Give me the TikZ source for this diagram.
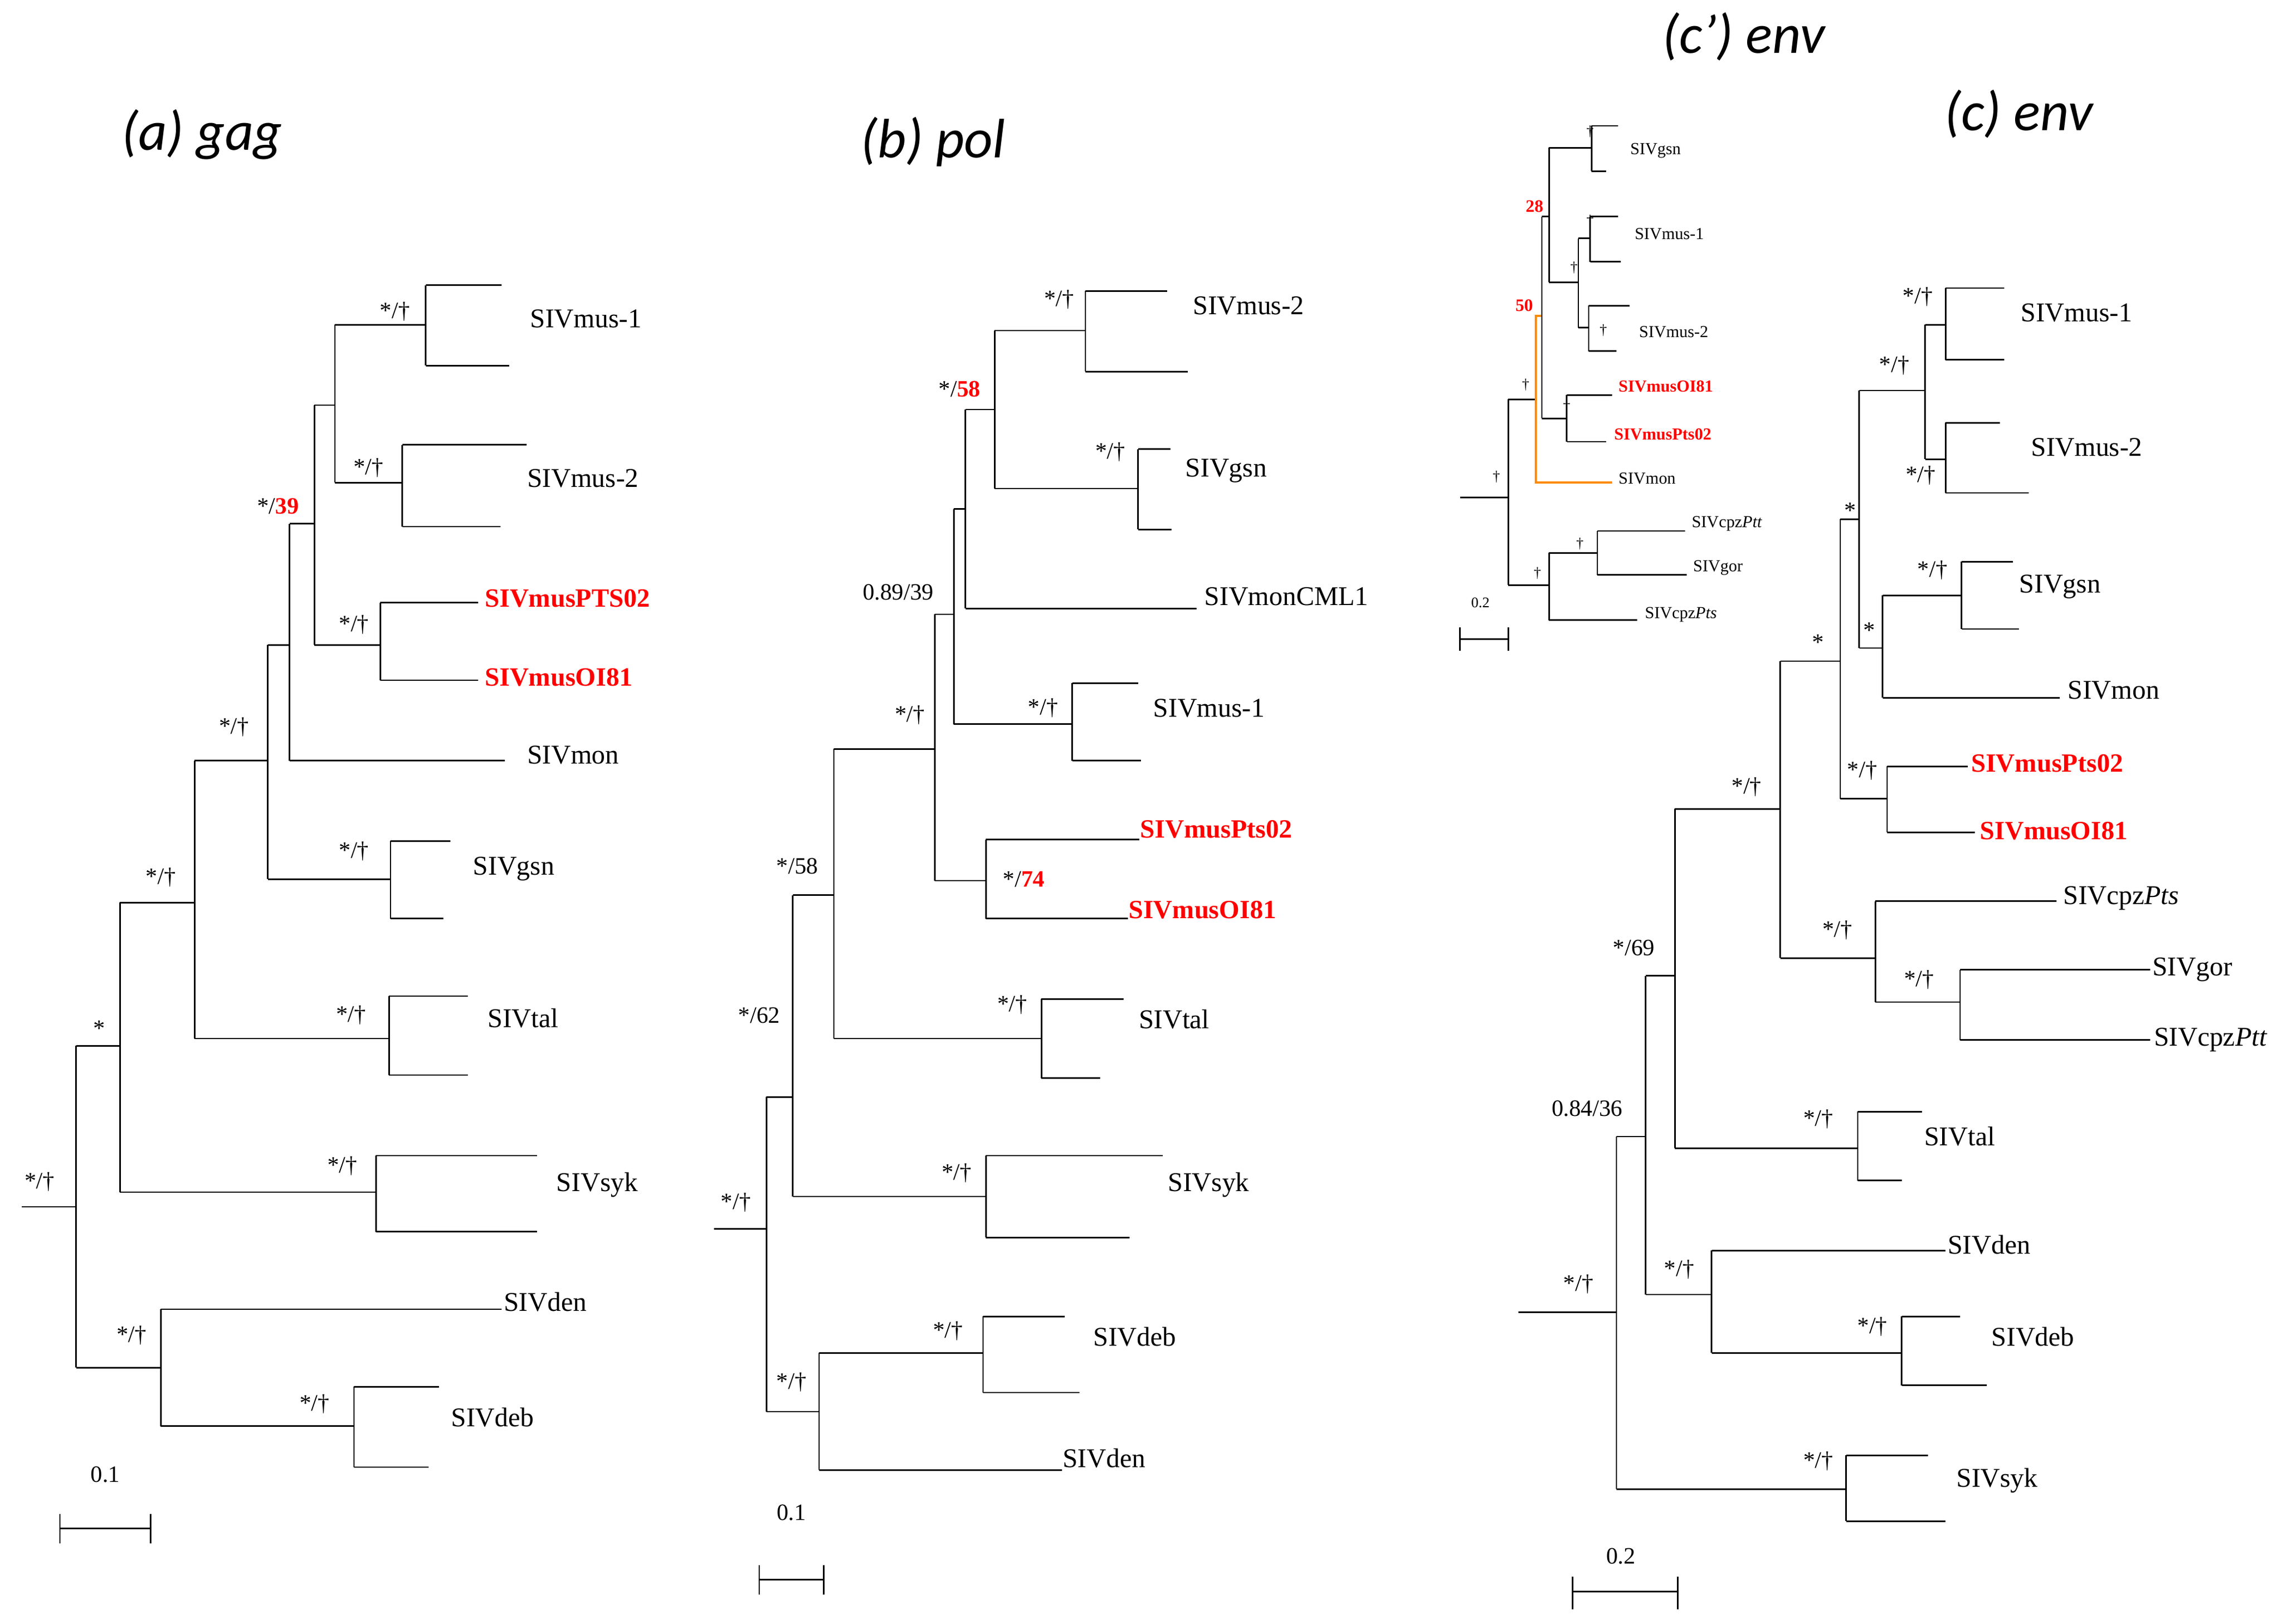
\documentclass[tikz,border=0pt]{standalone}
\usepackage{fontspec}
\setmainfont{Liberation Serif}
\newfontfamily\ttl{Carlito}
\begin{document}
\begin{tikzpicture}[x=1pt,y=-1pt,line width=1pt,
 lab/.style={anchor=west,inner sep=0pt,font=\fontsize{18.5}{18.5}\selectfont},
 rlab/.style={lab,text=red,font=\fontsize{18}{18}\selectfont\bfseries},
 sup/.style={inner sep=0pt,font=\fontsize{16}{16}\selectfont},
 slab/.style={anchor=west,inner sep=0pt,font=\fontsize{11.5}{11.5}\selectfont},
 srlab/.style={slab,text=red,font=\fontsize{11.5}{11.5}\selectfont\bfseries},
 ssup/.style={inner sep=0pt,font=\fontsize{10}{10}\selectfont},
 title/.style={inner sep=0pt,font=\ttl\itshape\fontsize{38}{38}\selectfont}]
\useasboundingbox (0,0) rectangle (1560,1110);
% ================= (a) gag
\node[title] (ta) at (138,92) {(a) gag};
\draw (15,825)--(52,825) (52,715)--(52,935);
\draw (52,715)--(82,715) (82,617)--(82,815);
\draw (82,617)--(133,617) (133,520)--(133,710);
\draw (133,520)--(183,520) (183,441)--(183,601);
\draw (183,441)--(198,441) (198,358)--(198,520) (198,520)--(345,520);
\draw (198,358)--(215,358) (215,277)--(215,441);
\draw (215,441)--(260,441) (260,412)--(260,465) (260,412)--(327,412) (260,465)--(327,465);
\draw (215,277)--(229,277) (229,222)--(229,330);
\draw (229,222)--(291,222) (291,195)--(291,250) (291,195)--(343,195) (291,250)--(348,250);
\draw (229,330)--(275,330) (275,304)--(275,360) (275,304)--(360,304) (275,360)--(342,360);
\draw (183,601)--(267,601) (267,575)--(267,628) (267,575)--(308,575) (267,628)--(303,628);
\draw (133,710)--(266,710) (266,681)--(266,735) (266,681)--(320,681) (266,735)--(320,735);
\draw (82,815)--(257,815) (257,790)--(257,842) (257,790)--(367,790) (257,842)--(367,842);
\draw (52,935)--(110,935) (110,895)--(110,975) (110,895)--(343,895);
\draw (110,975)--(242,975) (242,948)--(242,1003) (242,948)--(300,948) (242,1003)--(293,1003);
\node[lab] (a1) at (362,218) {SIVmus-1};
\node[lab] (a2) at (360,327) {SIVmus-2};
\node[rlab] (a3) at (331,409) {SIVmusPTS02};
\node[rlab] (a4) at (331,463) {SIVmusOI81};
\node[lab] (a5) at (360,516) {SIVmon};
\node[lab] (a6) at (323,594) {SIVgsn};
\node[lab] (a7) at (333,696) {SIVtal};
\node[lab] (a8) at (380,810) {SIVsyk};
\node[lab] (a9) at (344,890) {SIVden};
\node[lab] (a10) at (308,969) {SIVdeb};
\node[sup] at (270,213) {*/†};
\node[sup] at (252,320) {*/†};
\node[sup] at (242,427) {*/†};
\node[sup] at (190,346) {*/\textcolor{red}{\bfseries 39}};
\node[sup] at (160,497) {*/†};
\node[sup] at (242,582) {*/†};
\node[sup] at (110,600) {*/†};
\node[sup] at (240,694) {*/†};
\node[sup] at (68,703) {*};
\node[sup] at (234,797) {*/†};
\node[sup] at (27,808) {*/†};
\node[sup] at (90,913) {*/†};
\node[sup] at (215,960) {*/†};
\draw (41,1045)--(103,1045) (41,1035)--(41,1055) (103,1035)--(103,1055);
\node[sup] at (72,1008) {0.1};
% ================= (b) pol
\node[title] (tb) at (638,97) {(b) pol};
\draw (488,840)--(524,840) (524,750)--(524,965);
\draw (524,750)--(542,750) (542,612)--(542,818);
\draw (542,612)--(570,612) (570,512)--(570,710);
\draw (570,512)--(639,512) (639,420)--(639,602);
\draw (639,420)--(652,420) (652,348)--(652,495);
\draw (652,348)--(660,348) (660,280)--(660,416) (660,416)--(818,416);
\draw (660,280)--(680,280) (680,226)--(680,334);
\draw (680,226)--(742,226) (742,199)--(742,254) (742,199)--(798,199) (742,254)--(812,254);
\draw (680,334)--(778,334) (778,307)--(778,362) (778,307)--(800,307) (778,362)--(801,362);
\draw (652,495)--(733,495) (733,467)--(733,520) (733,467)--(778,467) (733,520)--(780,520);
\draw (639,602)--(674,602) (674,574)--(674,628) (674,574)--(779,574) (674,628)--(771,628);
\draw (570,710)--(712,710) (712,683)--(712,737) (712,683)--(768,683) (712,737)--(752,737);
\draw (542,818)--(674,818) (674,790)--(674,846) (674,790)--(795,790) (674,846)--(772,846);
\draw (524,965)--(560,965) (560,925)--(560,1005) (560,1005)--(726,1005);
\draw (560,925)--(672,925) (672,900)--(672,952) (672,900)--(728,900) (672,952)--(738,952);
\node[lab] (b1) at (815,209) {SIVmus-2};
\node[lab] (b2) at (810,322) {SIVgsn};
\node[lab] (b3) at (823,408) {SIVmonCML1};
\node[lab] (b4) at (788,484) {SIVmus-1};
\node[rlab] (b5) at (779,567) {SIVmusPts02};
\node[rlab] (b6) at (771,622) {SIVmusOI81};
\node[lab] (b7) at (778,697) {SIVtal};
\node[lab] (b8) at (798,810) {SIVsyk};
\node[lab] (b9) at (747,914) {SIVdeb};
\node[lab] (b10) at (726,997) {SIVden};
\node[sup] at (724,205) {*/†};
\node[sup] at (656,266) {*/\textcolor{red}{\bfseries 58}};
\node[sup] at (759,309) {*/†};
\node[sup] at (614,405) {0.89/39};
\node[sup] at (622,489) {*/†};
\node[sup] at (713,484) {*/†};
\node[sup] at (700,601) {*/\textcolor{red}{\bfseries 74}};
\node[sup] at (545,592) {*/58};
\node[sup] at (692,687) {*/†};
\node[sup] at (519,694) {*/62};
\node[sup] at (654,802) {*/†};
\node[sup] at (503,822) {*/†};
\node[sup] at (648,910) {*/†};
\node[sup] at (541,945) {*/†};
\draw (519,1080)--(563,1080) (519,1070)--(519,1090) (563,1070)--(563,1090);
\node[sup] at (541,1034) {0.1};
% ================= (c') env inset
\node[title] (tc2) at (1192,25) {(c’) env};
\draw (998,340)--(1031,340) (1031,273)--(1031,400);
\draw (1031,273)--(1050,273);
\draw[orange!80!yellow!90!red,line width=1.4pt] (1054,216)--(1050,216)--(1050,330)--(1102,330);
\draw (1054,148)--(1054,286);
\draw (1054,148)--(1059,148) (1059,101)--(1059,193);
\draw (1059,101)--(1088,101) (1088,86)--(1088,117) (1088,86)--(1106,86) (1088,117)--(1098,117);
\draw (1059,193)--(1079,193) (1079,163)--(1079,224);
\draw (1079,163)--(1087,163) (1087,148)--(1087,179) (1087,148)--(1106,148) (1087,179)--(1108,179);
\draw (1079,224)--(1086,224) (1086,209)--(1086,240) (1086,209)--(1114,209) (1086,240)--(1105,240);
\draw (1054,286)--(1071,286) (1071,270)--(1071,302) (1071,270)--(1102,270) (1071,302)--(1098,302);
\draw (1031,400)--(1059,400) (1059,378)--(1059,424) (1059,424)--(1119,424);
\draw (1059,378)--(1092,378) (1092,363)--(1092,393) (1092,363)--(1152,363) (1092,393)--(1153,393);
\node[slab] (c1) at (1114,103) {SIVgsn};
\node[slab] (c2) at (1117,160) {SIVmus-1};
\node[slab] (c3) at (1120,227) {SIVmus-2};
\node[srlab] (c4) at (1106,264) {SIVmusOI81};
\node[srlab] (c5) at (1103,297) {SIVmusPts02};
\node[slab] (c6) at (1106,327) {SIVmon};
\node[slab] (c7) at (1156,358) {SIVcpz\textit{Ptt}};
\node[slab] (c8) at (1157,388) {SIVgor};
\node[slab] (c9) at (1124,420) {SIVcpz\textit{Pts}};
\node[ssup] at (1087,90) {†};
\node[ssup] at (1087,151) {†};
\node[ssup] at (1076,183) {†};
\node[ssup] at (1096,226) {†};
\node[ssup] at (1071,278) {†};
\node[ssup] at (1043,263) {†};
\node[ssup] at (1023,326) {†};
\node[ssup] at (1080,372) {†};
\node[ssup] at (1051,392) {†};
\node[inner sep=0pt,text=red,font=\fontsize{12}{12}\selectfont\bfseries] at (1049,141) {28};
\node[inner sep=0pt,text=red,font=\fontsize{12}{12}\selectfont\bfseries] at (1042,209) {50};
\draw (998,437)--(1031,437) (998,429)--(998,445) (1031,429)--(1031,445);
\node[ssup] at (1012,412) {0.2};
% ================= (c) env
\node[title] (tc) at (1380,78) {(c) env};
\draw (1038,897)--(1105,897) (1105,777)--(1105,1018);
\draw (1105,777)--(1125,777) (1125,667)--(1125,885);
\draw (1125,667)--(1145,667) (1145,553)--(1145,785);
\draw (1145,553)--(1217,553) (1217,452)--(1217,655);
\draw (1217,452)--(1258,452) (1258,355)--(1258,546);
\draw (1258,355)--(1271,355) (1271,267)--(1271,443);
\draw (1271,267)--(1316,267) (1316,222)--(1316,314);
\draw (1316,222)--(1330,222) (1330,197)--(1330,246) (1330,197)--(1370,197) (1330,246)--(1370,246);
\draw (1316,314)--(1330,314) (1330,289)--(1330,337) (1330,289)--(1367,289) (1330,337)--(1387,337);
\draw (1271,443)--(1287,443) (1287,407)--(1287,477) (1287,477)--(1408,477);
\draw (1287,407)--(1341,407) (1341,384)--(1341,430) (1341,384)--(1376,384) (1341,430)--(1380,430);
\draw (1258,546)--(1290,546) (1290,524)--(1290,569) (1290,524)--(1345,524) (1290,569)--(1350,569);
\draw (1217,655)--(1282,655) (1282,616)--(1282,685) (1282,616)--(1406,616);
\draw (1282,685)--(1340,685) (1340,663)--(1340,711) (1340,663)--(1470,663) (1340,711)--(1470,711);
\draw (1145,785)--(1270,785) (1270,760)--(1270,807) (1270,760)--(1314,760) (1270,807)--(1300,807);
\draw (1125,885)--(1170,885) (1170,855)--(1170,925) (1170,855)--(1330,855);
\draw (1170,925)--(1300,925) (1300,900)--(1300,947) (1300,900)--(1340,900) (1300,947)--(1358,947);
\draw (1105,1018)--(1262,1018) (1262,995)--(1262,1040) (1262,995)--(1318,995) (1262,1040)--(1330,1040);
\node[lab] (d1) at (1381,214) {SIVmus-1};
\node[lab] (d2) at (1388,306) {SIVmus-2};
\node[lab] (d3) at (1380,401) {SIVgsn};
\node[lab] (d4) at (1413,472) {SIVmon};
\node[rlab] (d5) at (1347,522) {SIVmusPts02};
\node[rlab] (d6) at (1353,568) {SIVmusOI81};
\node[lab] (d7) at (1410,614) {SIVcpz\textit{Pts}};
\node[lab] (d8) at (1471,663) {SIVgor};
\node[lab] (d9) at (1472,711) {SIVcpz\textit{Ptt}};
\node[lab] (d10) at (1315,777) {SIVtal};
\node[lab] (d11) at (1331,851) {SIVden};
\node[lab] (d12) at (1361,914) {SIVdeb};
\node[lab] (d13) at (1337,1012) {SIVsyk};
\node[sup] at (1311,203) {*/†};
\node[sup] at (1295,250) {*/†};
\node[sup] at (1313,325) {*/†};
\node[sup] at (1321,390) {*/†};
\node[sup] at (1265,349) {*};
\node[sup] at (1278,431) {*};
\node[sup] at (1243,439) {*};
\node[sup] at (1273,527) {*/†};
\node[sup] at (1194,538) {*/†};
\node[sup] at (1256,636) {*/†};
\node[sup] at (1312,670) {*/†};
\node[sup] at (1117,648) {*/69};
\node[sup] at (1243,765) {*/†};
\node[sup] at (1085,758) {0.84/36};
\node[sup] at (1148,868) {*/†};
\node[sup] at (1280,907) {*/†};
\node[sup] at (1079,878) {*/†};
\node[sup] at (1243,999) {*/†};
\draw (1075,1088)--(1147,1088) (1075,1078)--(1075,1100) (1147,1078)--(1147,1100);
\node[sup] at (1108,1064) {0.2};
\end{tikzpicture}
\end{document}
